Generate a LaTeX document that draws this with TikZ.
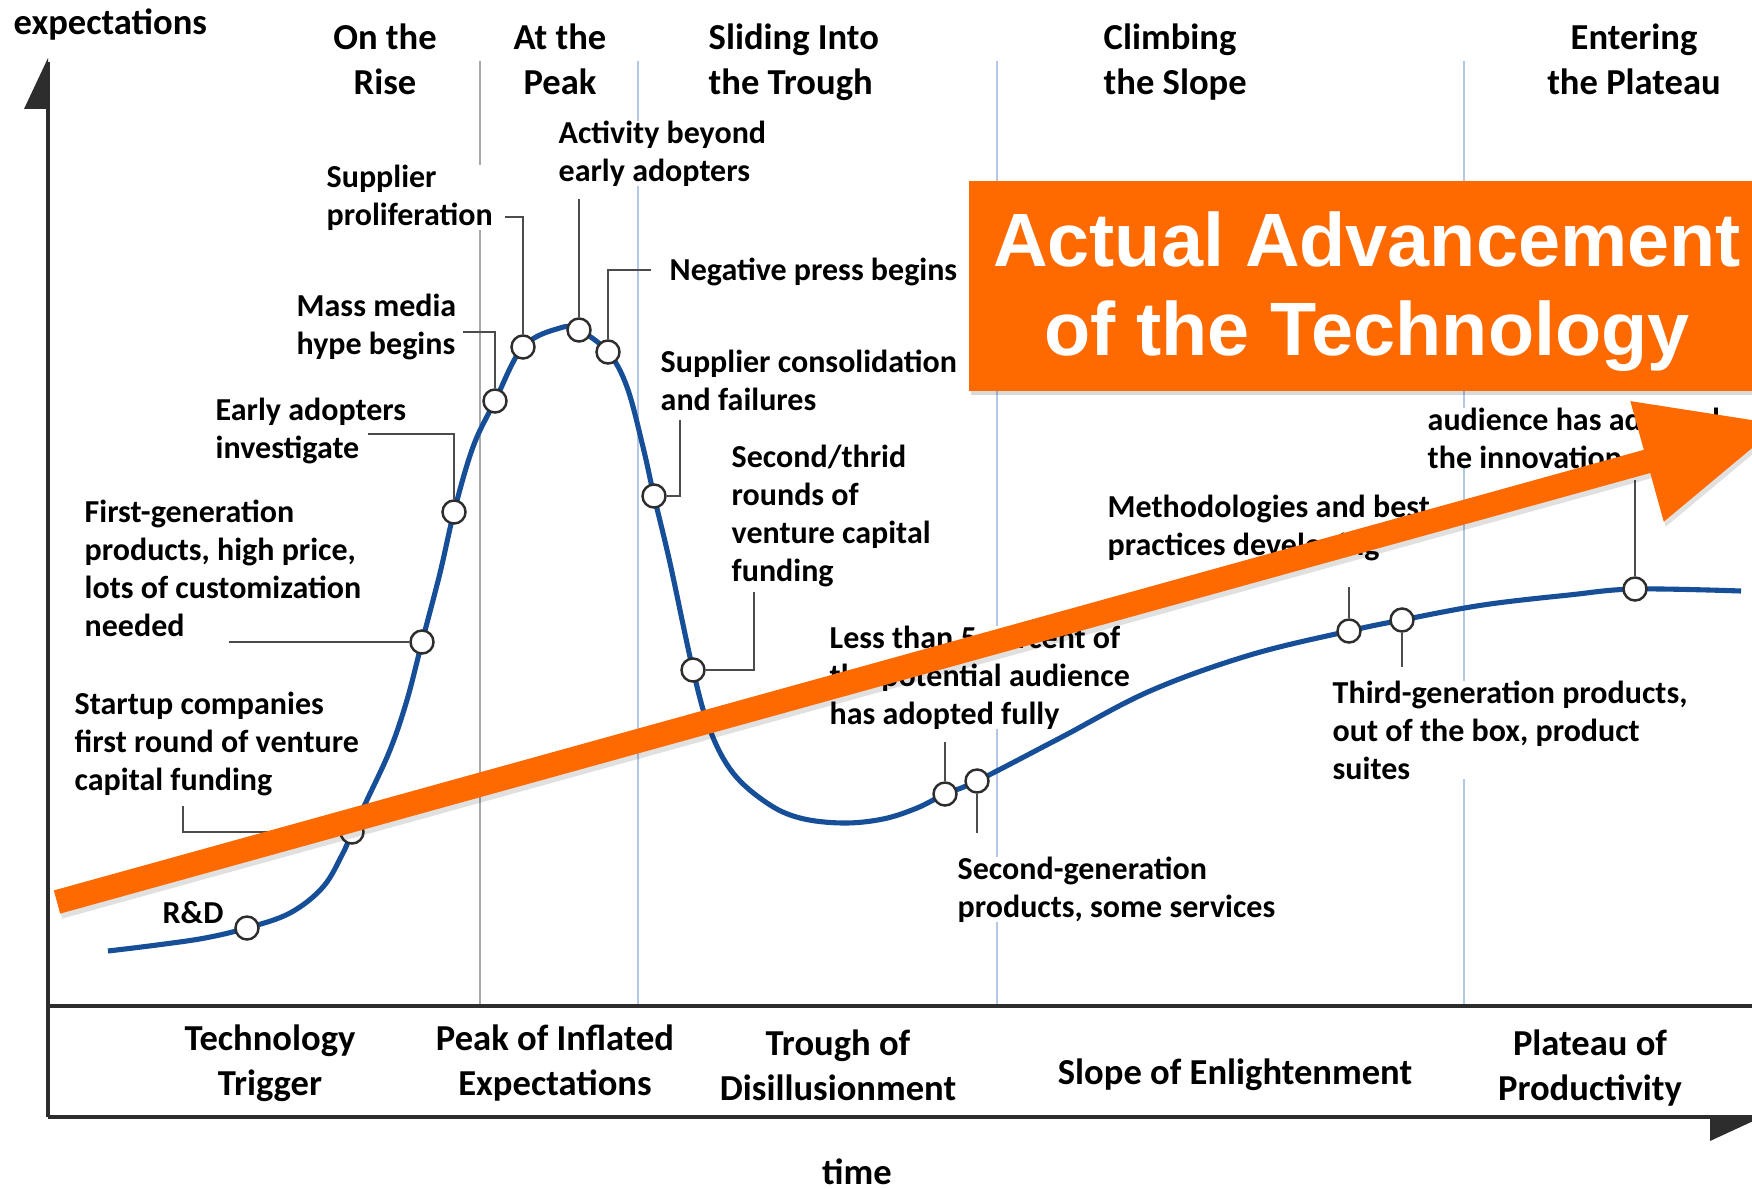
\documentclass[tikz,border=0pt]{standalone}
\usepackage{fontspec}
\setmainfont{Carlito}
\newfontfamily\bannerfont{Liberation Sans}
\usepackage{tikz}
\usetikzlibrary{arrows.meta,positioning,calc}
\definecolor{hypeblue}{RGB}{22,78,152}
\definecolor{sepblue}{RGB}{180,199,231}
\definecolor{sepgray}{RGB}{168,168,168}
\definecolor{advorange}{RGB}{254,106,0}
\definecolor{axisgray}{RGB}{45,45,45}
\tikzstyle{hypedot}=[circle,draw=axisgray,fill=white,line width=0.7pt,minimum size=0.23cm,inner sep=0pt]
\tikzstyle{note}=[font=\fontsize{9.1}{10.8}\selectfont\bfseries,align=left,inner sep=0pt,fill=white,anchor=north west]
\tikzstyle{phase}=[font=\fontsize{10.4}{12.7}\selectfont\bfseries,align=center,inner sep=0pt,anchor=north]
\tikzstyle{leader}=[draw=axisgray!85,line width=0.7pt]
\tikzstyle{phaseline}=[line width=0.55pt]
\tikzstyle{axisline}=[draw=axisgray,line width=0.9pt]
\tikzstyle{hypecurve}=[draw=hypeblue,line width=1.45pt]

\begin{document}
\begin{tikzpicture}[x=0.01cm,y=-0.01cm]
  \useasboundingbox (0,0) rectangle (1752,1188);
  \clip (0,0) rectangle (1752,1188);

  \draw[phaseline,draw=sepgray] (480,61) -- (480,1006);
  \draw[phaseline,draw=sepblue] (638,61) -- (638,1006);
  \draw[phaseline,draw=sepblue] (997,61) -- (997,1006);
  \draw[phaseline,draw=sepblue] (1464,61) -- (1464,1006);

  \draw[axisline] (48,1117) -- (48,62);
  \fill[axisgray] (48,58) -- (24,109) -- (48,109) -- cycle;
  \draw[axisline] (48,1006) -- (1752,1006);
  \draw[axisline] (48,1117) -- (1752,1117);
  \fill[axisgray] (1710,1117) -- (1710,1141) -- (1762,1117) -- cycle;

  \node[phase,anchor=base west] at (13,35) (ylabel) {expectations};
  \node[phase] at (385,23) (rise) {On the\\Rise};
  \node[phase] at (560,23) (atpeak) {At the\\Peak};
  \node[phase,anchor=north west,align=left] at (708,23) (sliding) {Sliding Into\\the Trough};
  \node[phase,anchor=north west,align=left] at (1103,23) (climbing) {Climbing\\the Slope};
  \node[phase] at (1634,23) (entering) {Entering\\the Plateau};

  \node[phase] at (270,1024) (trigger) {Technology\\Trigger};
  \node[phase] at (555,1024) (inflated) {Peak of Inflated\\Expectations};
  \node[phase] at (838,1029) (trough) {Trough of\\Disillusionment};
  \node[phase,anchor=base] at (1235,1084) (slope) {Slope of Enlightenment};
  \node[phase] at (1590,1029) (plateau) {Plateau of\\Productivity};
  \node[phase,anchor=base] at (857,1184) (xlabel) {time};

  \node[note] at (326,164) (prolifText) {Supplier\\proliferation};
  \node[note] at (558,120) (beyondText) {Activity beyond\\early adopters};
  \node[note,anchor=base west] at (669,280) (negText) {Negative press begins};
  \node[note] at (296,293) (massText) {Mass media\\hype begins};
  \node[note] at (660,349) (consolText) {Supplier consolidation\\and failures};
  \node[note] at (215,397) (earlyText) {Early adopters\\investigate};
  \node[note] at (731,444) (vcText) {Second/thrid\\rounds of\\venture capital\\funding};
  \node[note] at (84,499) (firstgenText) {First-generation\\products, high price,\\lots of customization\\needed};
  \node[note] at (1107,494) (methodText) {Methodologies and best\\practices developing};
  \node[note] at (829,625) (lessText) {Less than 5 percent of\\the potential audience\\has adopted fully};
  \node[note] at (74,691) (startupText) {Startup companies\\first round of venture\\capital funding};
  \node[note] at (1332,680) (thirdText) {Third-generation products,\\out of the box, product\\suites};
  \node[note] at (1427,407) (adoptedText) {audience has adopted\\the innovation};
  \node[note] at (957,856) (secondText) {Second-generation\\products, some services};
  \node[note,anchor=base west] at (162,923) (rdText) {R\&D};

  \draw[hypecurve] plot[smooth,tension=0.6] coordinates {
    (108,951) (157,945) (205,938) (247,928) (290,913) (323,887) (343,853)
    (352,832) (367,800) (390,750) (407,700) (422,642) (440,573) (454,512)
    (473,447) (495,401) (523,347) (560,328) (579,330) (608,352) (627,387)
    (643,447) (654,496) (670,563) (693,670) (710,730) (733,773) (767,803)
    (800,818) (843,823) (883,819) (917,808) (945,794) (977,781) (1060,738)
    (1150,691) (1250,655) (1349,631) (1402,620) (1483,605) (1569,595)
    (1635,589) (1741,591)};

  \node[hypedot] at (247,928) (rd) {};
  \node[hypedot] at (352,832) (startup) {};
  \node[hypedot] at (422,642) (firstgen) {};
  \node[hypedot] at (454,512) (early) {};
  \node[hypedot] at (495,401) (mass) {};
  \node[hypedot] at (523,347) (prolif) {};
  \node[hypedot] at (579,330) (beyond) {};
  \node[hypedot] at (608,352) (negpress) {};
  \node[hypedot] at (654,496) (consol) {};
  \node[hypedot] at (693,670) (vcfund) {};
  \node[hypedot] at (945,794) (lessfive) {};
  \node[hypedot] at (977,781) (secondgen) {};
  \node[hypedot] at (1349,631) (method) {};
  \node[hypedot] at (1402,620) (thirdgen) {};
  \node[hypedot] at (1635,589) (adopted) {};

  \coordinate (startupEnd) at (183,806);
  \coordinate (firstgenEnd) at (229,642);
  \coordinate (earlyEnd) at (368,434);
  \coordinate (massEnd) at (463,332);
  \coordinate (prolifEnd) at (505,217);
  \coordinate (beyondEnd) at (579,199);
  \coordinate (negEnd) at (651,270);
  \coordinate (consolEnd) at (680,420);
  \coordinate (vcEnd) at (754,592);
  \coordinate (lessEnd) at (945,742);
  \coordinate (secondEnd) at (977,833);
  \coordinate (methodEnd) at (1349,587);
  \coordinate (thirdEnd) at (1402,667);
  \coordinate (adoptedEnd) at (1635,480);

  \draw[leader] (startup) -| (startupEnd);
  \draw[leader] (firstgenEnd) -- (firstgen);
  \draw[leader] (earlyEnd) -| (early);
  \draw[leader] (massEnd) -| (mass);
  \draw[leader] (prolifEnd) -| (prolif);
  \draw[leader] (beyondEnd) -- (beyond);
  \draw[leader] (negEnd) -| (negpress);
  \draw[leader] (consol) -| (consolEnd);
  \draw[leader] (vcfund) -| (vcEnd);
  \draw[leader] (lessEnd) -- (lessfive);
  \draw[leader] (secondEnd) -- (secondgen);
  \draw[leader] (methodEnd) -- (method);
  \draw[leader] (thirdEnd) -- (thirdgen);
  \draw[leader] (adoptedEnd) -- (adopted);

  \coordinate (advStart) at (57,902);
  \coordinate (advTip) at (1782,424);
  \draw[black,opacity=0.12,line width=0.24cm,-{Triangle[length=1.4cm,width=1.18cm]}]
    ([shift={(2,5)}]advStart) -- ([shift={(2,5)}]advTip);
  \draw[advorange,line width=0.24cm,-{Triangle[length=1.4cm,width=1.18cm]}] (advStart) -- (advTip);

  \fill[black,opacity=0.15] (971,185) rectangle (1760,395);
  \node[fill=advorange,minimum width=7.92cm,minimum height=2.1cm,anchor=north west,inner sep=0pt]
        at (968,180) (banner) {};
  \node[text=white,align=center,inner sep=0pt,font=\bannerfont\fontsize{21.5}{25.4}\selectfont\bfseries]
        at ($(banner.center)+(2,6)$) (bannerText) {Actual Advancement\\of the Technology};
\end{tikzpicture}
\end{document}
